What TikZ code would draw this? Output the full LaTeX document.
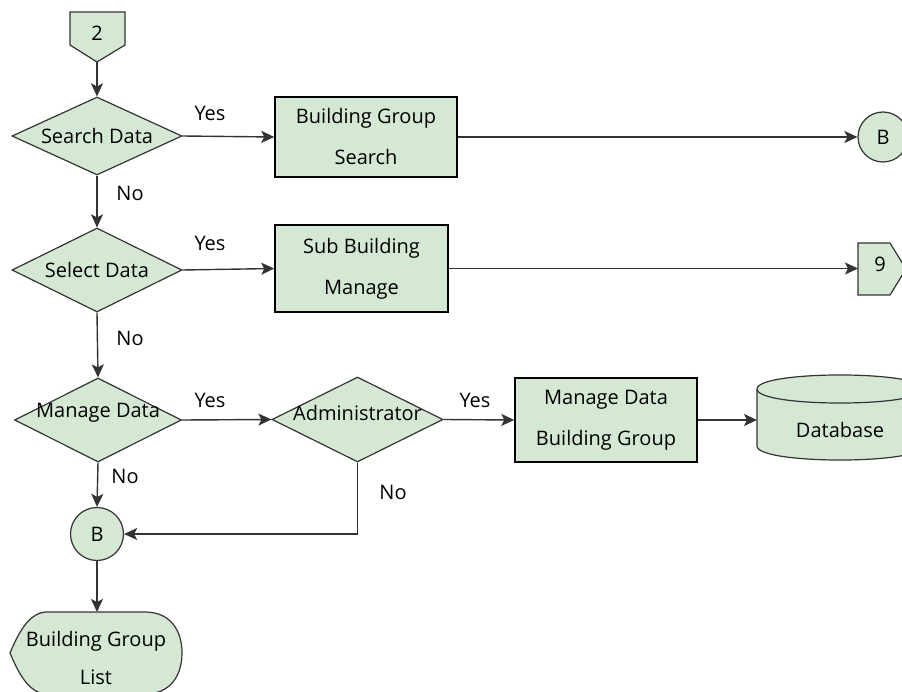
\documentclass[tikz,border=0pt]{standalone}
\usepackage{fontspec}
\setmainfont{Open Sans}
\usetikzlibrary{shapes.geometric,arrows.meta}
\definecolor{boxfill}{HTML}{D5E8D4}
\definecolor{edgec}{HTML}{333333}
\begin{document}
\begin{tikzpicture}[x=1pt,y=-1pt,
  font=\fontsize{20pt}{41pt}\selectfont,
  shapeb/.style={draw=edgec, line width=1.2pt, fill=boxfill},
  procbox/.style={shapeb, draw=black, line width=1.5pt, rectangle, align=center, inner sep=0pt},
  decision/.style={shapeb, diamond, inner sep=0pt},
  conn/.style={shapeb, circle, inner sep=0pt},
  flow/.style={draw=edgec, line width=1.4pt, -{Stealth[length=13pt,width=12pt,inset=3pt]}},
  txt/.style={inner sep=0pt, align=center}]
\useasboundingbox (0,0) rectangle (902,692);
\clip (0,0) rectangle (902,692);

% off-page connector 2
\path[shapeb] (70,12) -- (125,12) -- (125,45) -- (97,62) -- (70,45) -- cycle;
\node[txt] (t2) at (97,33) {2};
\coordinate (tip2) at (97,62);

% decisions
\node[decision, minimum width=170pt, minimum height=78pt] (d1) at (97,136) {};
\node[txt] (d1t) at (97,136) {Search Data};
\node[decision, minimum width=170pt, minimum height=84pt] (d2) at (97,270) {};
\node[txt] (d2t) at (97,270) {Select Data};
\node[decision, minimum width=167pt, minimum height=84pt] (d3) at (98,420) {};
\node[txt] (d3t) at (98,413) {Manage Data};
\node[decision, minimum width=171pt, minimum height=85pt] (adm) at (357.5,419.5) {};
\node[txt] (admt) at (357.5,413) {Administrator};

% processes
\node[procbox, minimum width=182pt, minimum height=80pt] (r1) at (366,137) {Building Group\\Search};
\node[procbox, minimum width=173pt, minimum height=87pt] (r2) at (361.5,268.5) {Sub Building\\Manage};
\node[procbox, minimum width=182pt, minimum height=84pt] (r3) at (606,420) {Manage Data\\Building Group};

% connectors
\node[conn, minimum size=50pt] (b1) at (883,137) {B};
\node[conn, minimum size=53pt] (b2) at (97,534) {B};

% off-page connector 9
\path[shapeb] (858,243) -- (890,243) -- (906,269) -- (890,295) -- (858,295) -- cycle;
\node[txt] (t9) at (880,264) {9};
\coordinate (in9) at (858,268.5);

% database
\path[shapeb] (757,389) -- (757,446) .. controls (757,464.7) and (923,464.7) .. (923,446)
  -- (923,389) .. controls (923,370.3) and (757,370.3) .. (757,389) -- cycle;
\draw[edgec, line width=1.2pt] (757,389) .. controls (757,407.7) and (923,407.7) .. (923,389);
\node[txt] (db) at (840,430) {Database};
\coordinate (dbl) at (757,420);

% display
\path[shapeb] (10,653) .. controls (18,634) and (28,614) .. (45,612) -- (145,612)
  .. controls (170,612) and (182,630) .. (182,653)
  .. controls (182,676) and (170,694) .. (145,694) -- (45,694)
  .. controls (28,692) and (18,672) .. (10,653) -- cycle;
\node[txt, font=\fontsize{20pt}{38pt}\selectfont] (list) at (96,658) {Building Group\\List};
\coordinate (listtop) at (97,612);

% flows
\draw[flow] (tip2) -- (d1.north);
\draw[flow] (d1.east) -- (r1.west);
\draw[flow] (r1.east) -- (b1.west);
\draw[flow] (d1.south) -- (d2.north);
\draw[flow] (d2.east) -- (r2.west);
\draw[flow] (r2.east) -- (in9);
\draw[flow] (d2.south) -- (d3.north);
\draw[flow] (d3.east) -- (adm.west);
\draw[flow] (adm.east) -- (r3.west);
\draw[flow] (r3.east) -- (dbl);
\draw[flow] (d3.south) -- (b2.north);
\draw[flow] (adm.south) |- (b2.east);
\draw[flow] (b2.south) -- (listtop);

% labels
\node[txt] (y1) at (210,113) {Yes};
\node[txt] (n1) at (130,193) {No};
\node[txt] (y2) at (210,243) {Yes};
\node[txt] (n2) at (130,338) {No};
\node[txt] (y3) at (210,400) {Yes};
\node[txt] (y4) at (475,400) {Yes};
\node[txt] (n3) at (125,476) {No};
\node[txt] (n4) at (393,492) {No};
\end{tikzpicture}
\end{document}
